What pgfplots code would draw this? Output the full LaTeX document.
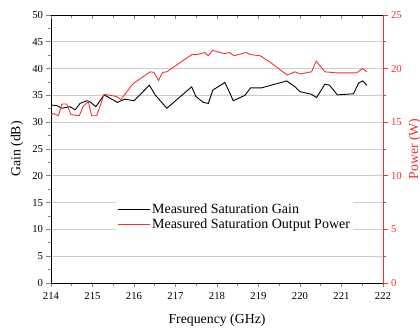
\documentclass[border=0pt]{standalone}
\usepackage{pgfplots}
\pgfplotsset{compat=1.18}
\usepackage{fontspec}
\setmainfont{Liberation Serif}
\definecolor{mred}{RGB}{238,52,52}
\definecolor{gridgray}{RGB}{205,205,205}

\begin{document}
\begin{tikzpicture}
\pgfplotsset{
  every axis/.append style={
    scale only axis, width=332pt, height=268pt,
    xmin=214, xmax=222, xtick={214,215,...,222}, minor x tick num=1,
    /pgf/number format/assume math mode=true,
    /pgf/number format/1000 sep={},
    tick label style={font=\fontsize{10.7}{12}\selectfont},
    label style={font=\fontsize{13.8}{16}\selectfont},
    axis line style={line width=0.9pt},
    major tick length=4.5pt, minor tick length=3pt,
    tick style={line width=0.8pt},
  }
}
\begin{axis}[
  name=main,
  ymin=0, ymax=50, ytick={0,5,...,50}, minor y tick num=1,
  xtick pos=bottom, ytick pos=left, tick align=outside,
  ymajorgrids, major grid style={gridgray, line width=0.8pt},
  xlabel={Frequency (GHz)}, ylabel={Gain (dB)},
  xlabel style={yshift=-7pt},
  ylabel style={yshift=2pt},
  xticklabel style={yshift=-1.5pt},
  legend style={at={(0.553,0.246)}, anchor=center, draw=none, fill=white,
    font=\fontsize{14}{17}\selectfont, inner sep=1pt, row sep=0pt,
    cells={anchor=west}},
  legend image code/.code={\draw[#1] (0pt,0pt) -- (32pt,0pt);},
]
\addplot[black, line width=0.9pt] coordinates {
(214.00,33.2) (214.14,33.1) (214.26,32.6) (214.46,32.9) (214.58,32.3)
(214.70,33.5) (214.86,34.0) (214.94,33.8) (215.08,32.9) (215.28,35.1)
(215.60,33.7) (215.78,34.3) (216.00,34.0) (216.37,36.9) (216.51,35.1)
(216.79,32.6) (217.39,36.6) (217.49,34.8) (217.67,33.7) (217.79,33.5)
(217.90,36.0) (218.19,37.4) (218.33,35.1) (218.39,34.0) (218.67,35.0)
(218.81,36.4) (219.07,36.4) (219.68,37.7) (219.88,36.6) (220.00,35.7)
(220.28,35.2) (220.40,34.6) (220.60,37.1) (220.71,36.9) (220.90,35.1)
(221.29,35.3) (221.41,37.3) (221.51,37.7) (221.61,36.9)
};
\addlegendentry{Measured Saturation Gain}
\addlegendimage{mred, line width=0.9pt}
\addlegendentry{Measured Saturation Output Power}
\end{axis}

\begin{axis}[
  axis x line*=top, axis y line=none, tick align=inside,
  ymin=0, ymax=50, xticklabels={},
]
\end{axis}

\begin{axis}[
  axis x line=none, axis y line*=right, tick align=outside,
  ymin=0, ymax=25, ytick={0,5,...,25}, minor y tick num=1,
  y axis line style={mred}, tick style={mred, line width=0.8pt},
  yticklabel style={mred},
  ylabel={Power (W)}, ylabel style={mred},
]
\addplot[mred, line width=0.9pt] coordinates {
(214.00,15.7) (214.07,15.8) (214.18,15.6) (214.26,16.7) (214.38,16.7)
(214.48,15.7) (214.68,15.6) (214.78,16.5) (214.90,16.9) (214.98,15.6)
(215.10,15.6) (215.28,17.6) (215.58,17.4) (215.68,17.1) (215.98,18.6)
(216.39,19.7) (216.48,19.65) (216.59,18.9) (216.69,19.65) (216.79,19.7)
(217.39,21.3) (217.51,21.3) (217.70,21.5) (217.79,21.2) (217.89,21.7)
(218.07,21.5) (218.19,21.4) (218.30,21.5) (218.41,21.2) (218.70,21.5)
(218.81,21.3) (219.04,21.2) (219.28,20.6) (219.69,19.4) (219.88,19.7)
(220.00,19.5) (220.28,19.7) (220.39,20.7) (220.60,19.7) (220.88,19.6)
(221.36,19.6) (221.51,20.0) (221.61,19.7)
};
\end{axis}
\pgfresetboundingbox
\path[use as bounding box] ([shift={(-51pt,-47pt)}]main.south west) rectangle ([shift={(37pt,15pt)}]main.north east);
\end{tikzpicture}
\end{document}
